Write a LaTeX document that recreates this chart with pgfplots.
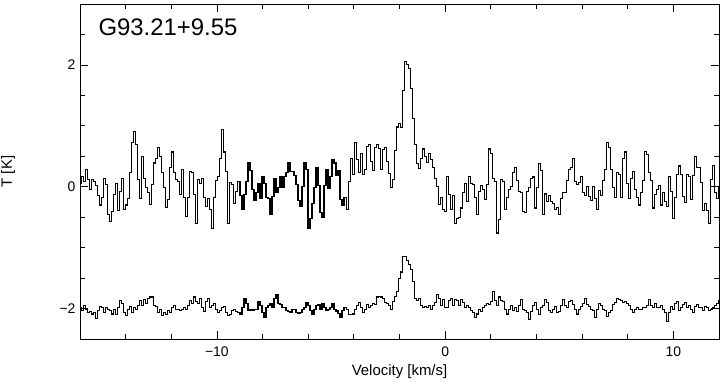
\documentclass[border=0pt]{standalone}
\usepackage{fontspec}
\setmainfont{Liberation Sans}
\usepackage{pgfplots}
\usepackage{pgfplotstable}
\pgfplotsset{compat=1.18}

% upper spectrum, one value per channel (channel width ~0.0877 km/s from -15.965)
\pgfplotstableread[row sep=\\]{
T\\
0.05\\ 0.17\\ 0.09\\ 0.29\\ 0.12\\ -0.04\\ 0.12\\ 0.09\\ 0.02\\ -0.15\\ -0.30\\ -0.17\\ 0.14\\ 0.03\\ -0.46\\ -0.57\\ -0.41\\ -0.13\\ 0.06\\ -0.39\\
-0.08\\ 0.14\\ -0.37\\ -0.30\\ -0.19\\ 0.23\\ 0.72\\ 0.91\\ 0.69\\ 0.12\\ -0.20\\ 0.50\\ 0.14\\ -0.01\\ -0.09\\ -0.29\\ 0.03\\ 0.39\\ 0.46\\ 0.64\\
0.50\\ 0.23\\ -0.02\\ -0.34\\ -0.21\\ 0.31\\ 0.57\\ 0.23\\ 0.12\\ 0.09\\ -0.13\\ 0.28\\ -0.17\\
-0.49\\ -0.17\\ 0.25\\ 0.23\\ -0.13\\ -0.61\\ 0.12\\ 0.05\\ 0.13\\ -0.17\\ -0.32\\ -0.19\\ -0.38\\ -0.68\\ -0.17\\ 0.10\\ 0.17\\ 0.47\\ 0.94\\ 0.57\\
0.25\\ -0.60\\ 0.07\\ 0.03\\ -0.27\\ -0.08\\ 0.09\\ -0.15\\ -0.38\\ -0.13\\ 0.09\\ 0.39\\ 0.27\\ -0.05\\ -0.23\\ -0.10\\ 0.05\\ -0.20\\ 0.17\\ 0.06\\
-0.17\\ -0.19\\ -0.46\\ -0.16\\ 0.14\\ -0.10\\ -0.02\\ 0.16\\ -0.01\\ 0.17\\ 0.23\\ 0.39\\ 0.25\\
0.25\\ 0.19\\ 0.03\\ -0.23\\ -0.32\\ 0.01\\ 0.39\\ 0.28\\ -0.68\\ -0.52\\ -0.27\\ -0.02\\ 0.31\\ 0.02\\ -0.43\\ -0.51\\ 0.02\\ 0.28\\ -0.03\\ 0.17\\
0.45\\ 0.39\\ 0.19\\ 0.26\\ -0.21\\ -0.31\\ -0.18\\ -0.38\\ 0.08\\ 0.46\\ 0.20\\ 0.72\\ 0.45\\ 0.23\\ 0.55\\ 0.20\\ 0.28\\ 0.66\\ 0.70\\ 0.42\\
0.26\\ 0.64\\ 0.70\\ 0.63\\ 0.28\\ 0.61\\ 0.64\\ 0.42\\ 0.21\\ -0.01\\ 0.12\\ 0.60\\ 0.98\\
1.04\\ 0.97\\ 1.58\\ 2.06\\ 2.01\\ 1.94\\ 1.61\\ 1.12\\ 0.70\\ 0.38\\ 0.30\\ 0.47\\ 0.62\\ 0.50\\ 0.40\\ 0.54\\ 0.45\\ 0.31\\ 0.14\\ 0.00\\
-0.29\\ -0.17\\ -0.38\\ -0.40\\ 0.17\\ -0.13\\ -0.37\\ -0.15\\ -0.60\\ -0.52\\ -0.50\\ -0.35\\ -0.10\\ 0.05\\ -0.24\\ 0.17\\ 0.06\\ 0.03\\ -0.17\\ -0.46\\
-0.08\\ 0.02\\ -0.05\\ -0.21\\ 0.03\\ 0.62\\ 0.55\\ 0.14\\ 0.09\\ -0.76\\ -0.54\\ 0.12\\ 0.09\\
-0.38\\ -0.17\\ -0.04\\ 0.00\\ 0.24\\ 0.32\\ 0.10\\ -0.08\\ -0.10\\ -0.41\\ -0.42\\ -0.08\\ -0.02\\ 0.14\\ 0.16\\ -0.35\\ -0.02\\ 0.38\\ 0.27\\ -0.46\\
-0.12\\ -0.24\\ -0.15\\ -0.24\\ -0.28\\ -0.37\\ -0.34\\ -0.45\\ -0.19\\ -0.10\\ -0.09\\ 0.10\\ 0.29\\ 0.31\\ 0.47\\ 0.09\\ 0.03\\ 0.07\\ 0.17\\ -0.10\\
-0.15\\ 0.00\\ -0.16\\ -0.23\\ 0.00\\ -0.20\\ -0.37\\ -0.06\\ -0.15\\ 0.10\\ 0.29\\ 0.72\\ 0.65\\
0.28\\ -0.01\\ -0.17\\ 0.24\\ 0.20\\ -0.17\\ 0.46\\ 0.57\\ 0.06\\ -0.19\\ 0.13\\ 0.25\\ -0.05\\ -0.17\\ -0.30\\ -0.10\\ 0.10\\ 0.58\\ 0.53\\ 0.24\\
0.10\\ -0.35\\ -0.13\\ -0.04\\ 0.02\\ -0.30\\ -0.09\\ -0.24\\ -0.32\\ 0.17\\ -0.08\\ -0.52\\ -0.17\\ 0.20\\ 0.34\\ 0.20\\ -0.16\\ -0.26\\ 0.20\\ 0.17\\
-0.21\\ 0.18\\ 0.49\\ 0.32\\ 0.31\\ 0.07\\ -0.39\\ -0.28\\ -0.39\\ -0.60\\ 0.12\\ 0.35\\ -0.10\\ -0.20\\ -0.01\\
}\spectop

% lower spectrum, same channels, offset to -2 K
\pgfplotstableread[row sep=\\]{
T\\
-1.99\\ -2.03\\ -1.95\\ -2.01\\ -2.06\\ -2.05\\ -2.09\\ -2.07\\ -2.16\\ -2.03\\ -1.96\\ -1.99\\ -2.07\\ -1.99\\ -2.01\\ -2.03\\ -2.09\\ -2.01\\ -2.10\\ -1.99\\
-1.87\\ -1.91\\ -2.06\\ -2.12\\ -2.01\\ -1.96\\ -2.07\\ -1.99\\ -2.01\\ -1.95\\ -1.87\\ -1.95\\ -1.85\\ -1.92\\ -1.83\\ -1.81\\ -1.81\\ -1.95\\ -1.96\\ -2.06\\
-2.01\\ -2.12\\ -2.07\\ -2.10\\ -2.03\\ -2.06\\ -1.99\\ -1.95\\ -2.01\\ -2.02\\ -2.03\\ -2.01\\ -1.99\\
-2.01\\ -1.95\\ -1.87\\ -1.91\\ -1.81\\ -1.88\\ -1.92\\ -1.84\\ -1.99\\ -2.05\\ -1.88\\ -1.83\\ -1.99\\ -1.95\\ -1.92\\ -2.01\\ -2.07\\ -2.03\\ -1.99\\ -1.96\\
-2.06\\ -2.12\\ -2.10\\ -2.03\\ -2.02\\ -2.05\\ -2.07\\ -2.10\\ -1.99\\ -1.84\\ -1.92\\ -2.03\\ -2.02\\ -2.03\\ -2.01\\ -2.02\\ -1.88\\ -1.95\\ -2.06\\ -2.14\\
-1.99\\ -1.95\\ -1.91\\ -1.99\\ -1.83\\ -1.77\\ -1.92\\ -1.94\\ -1.98\\ -1.99\\ -2.03\\ -2.05\\ -2.07\\
-2.02\\ -2.01\\ -2.06\\ -2.08\\ -2.06\\ -2.02\\ -1.99\\ -1.90\\ -1.95\\ -2.03\\ -2.09\\ -2.01\\ -1.95\\ -1.93\\ -2.02\\ -1.92\\ -1.99\\ -2.03\\ -2.01\\ -1.98\\
-1.92\\ -2.01\\ -2.04\\ -2.08\\ -2.14\\ -2.03\\ -1.98\\ -2.02\\ -2.10\\ -2.10\\ -2.09\\ -2.01\\ -1.95\\ -1.90\\ -1.98\\ -2.06\\ -2.01\\ -1.93\\ -1.99\\ -1.95\\
-1.91\\ -1.93\\ -1.81\\ -1.80\\ -1.81\\ -1.84\\ -1.90\\ -1.91\\ -1.95\\ -2.01\\ -1.88\\ -1.80\\
-1.72\\ -1.51\\ -1.40\\ -1.14\\ -1.15\\ -1.21\\ -1.27\\ -1.36\\ -1.55\\ -1.83\\
-1.87\\ -1.83\\ -1.95\\ -1.98\\ -1.96\\ -1.98\\ -1.95\\ -2.01\\ -1.95\\ -1.90\\ -1.77\\ -1.84\\ -1.95\\ -1.85\\ -1.98\\ -1.98\\ -1.87\\ -1.83\\ -1.95\\ -1.85\\
-1.87\\ -1.95\\ -1.85\\ -1.90\\ -1.99\\ -1.95\\ -1.99\\ -2.03\\ -2.07\\ -2.14\\ -2.09\\ -2.01\\ -2.05\\ -1.98\\ -1.95\\ -1.92\\ -1.94\\ -1.88\\ -1.72\\ -1.87\\
-1.95\\ -1.81\\ -1.87\\ -1.88\\
-2.01\\ -2.09\\ -2.01\\ -1.95\\ -2.03\\ -1.99\\ -2.05\\ -1.95\\ -1.85\\ -2.01\\ -2.03\\ -2.07\\ -2.18\\ -2.05\\ -1.95\\ -1.90\\ -2.01\\ -2.10\\ -1.99\\ -1.95\\
-1.85\\ -1.90\\ -2.03\\ -2.07\\ -2.01\\ -1.96\\ -2.07\\ -2.05\\ -1.95\\ -1.85\\ -1.95\\ -1.99\\ -1.88\\ -1.87\\ -1.94\\ -2.01\\ -2.09\\ -2.01\\ -1.96\\ -1.91\\
-1.84\\ -1.94\\ -1.96\\ -2.01\\ -2.03\\ -2.14\\ -2.01\\ -1.92\\ -1.95\\ -2.01\\ -2.03\\ -2.13\\ -2.06\\
-2.03\\ -1.94\\ -1.90\\ -1.83\\ -1.85\\ -1.87\\ -1.90\\ -1.88\\ -1.92\\ -1.95\\ -2.01\\ -2.06\\ -2.01\\ -1.99\\ -2.02\\ -2.01\\ -1.99\\ -1.98\\ -1.95\\ -1.85\\
-1.95\\ -1.98\\ -1.92\\ -1.99\\ -1.98\\ -1.95\\ -2.01\\ -2.07\\ -2.21\\ -2.06\\ -1.96\\ -2.01\\ -1.92\\ -1.88\\ -2.03\\ -1.98\\ -1.94\\ -1.90\\ -1.99\\ -1.95\\
-2.01\\ -2.07\\ -1.96\\ -1.94\\ -1.99\\ -1.98\\ -2.03\\ -1.96\\ -1.99\\ -2.03\\ -2.01\\ -1.99\\ -1.95\\ -1.92\\ -1.87\\
}\specbot

\begin{document}
\begin{tikzpicture}
\useasboundingbox (-80bp,-45bp) rectangle (645bp,339bp);
\begin{axis}[
    scale only axis,
    width=639bp, height=335bp,
    xmin=-16, xmax=12,
    ymin=-2.5, ymax=3,
    xtick={-10,0,10}, xticklabels={−10,0,10},
    minor xtick={-14,-12,-8,-6,-4,-2,2,4,6,8},
    ytick={-2,0,2}, yticklabels={−2,0,2},
    minor ytick={-2.5,-1.5,-1,-0.5,0.5,1,1.5,2.5},
    tick align=inside,
    major tick length=8bp, minor tick length=5bp,
    tick style={black, line width=0.8bp},
    axis line style={line width=0.8bp},
    tick label style={font=\fontsize{14}{16}\selectfont},
    xticklabel style={yshift=-4bp},
    yticklabel style={xshift=-1bp},
    xlabel={Velocity [km/s]},
    ylabel={T [K]},
    xlabel style={at={(axis description cs:0.5,-0.0985)}, anchor=center,
        font=\fontsize{15}{17}\selectfont},
    ylabel style={at={(axis description cs:-0.1127,0.5)}, anchor=center,
        font=\fontsize{15}{17}\selectfont},
]
\addplot[const plot mark mid, black, line width=1.1bp, no marks]
    table[x expr=-15.965+0.08772*\coordindex, y=T] {\spectop};
\addplot[const plot mark mid, black, line width=1.1bp, no marks]
    table[x expr=-15.965+0.08772*\coordindex, y=T] {\specbot};
\node[anchor=base west, font=\fontsize{24}{28}\selectfont]
    at (axis description cs:0.0235,0.907) {G93.21+9.55};
\end{axis}
\end{tikzpicture}
\end{document}
